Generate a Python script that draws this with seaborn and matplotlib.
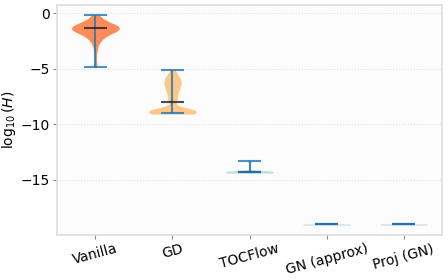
import numpy as np
import pandas as pd
import matplotlib
matplotlib.use("Agg")
import matplotlib.pyplot as plt
import seaborn as sns

methods = ["Vanilla", "GD", "TOCFlow", "GN (approx)", "Proj (GN)"]
colors = ["#fc8d59", "#fdc785", "#b8e0dc", "#dce8ee", "#dce8ee"]
bw_adjusts = [0.85, 0.4, 0.5, 1.0, 1.0]

vanilla = [-0.18, -0.4, -0.55, -0.65, -0.75, -0.82, -0.9, -0.96, -1.0, -1.05,
           -1.1, -1.14, -1.18, -1.21, -1.24, -1.27, -1.29, -1.31, -1.33, -1.34,
           -1.35,
           -1.37, -1.4, -1.43, -1.46, -1.5, -1.54, -1.58, -1.63, -1.68, -1.74,
           -1.8, -1.88, -1.96, -2.05, -2.15, -2.3, -2.45, -2.65, -3.2, -4.8]
gd = [-5.12, -5.4, -5.6, -5.75, -5.85, -5.95, -6.05, -6.15, -6.25, -6.35,
      -6.45, -6.55, -6.65, -6.78, -6.9, -7.05, -7.2, -7.4, -7.6, -7.8,
      -7.95,
      -8.4, -8.58, -8.68, -8.74, -8.78, -8.8, -8.82, -8.83, -8.84, -8.85,
      -8.86, -8.87, -8.88, -8.89, -8.9, -8.92, -8.94, -8.96, -8.98, -9.0]
tocflow = [-13.3, -14.2, -14.26, -14.28, -14.29, -14.3, -14.3, -14.3, -14.3,
           -14.3, -14.3, -14.3, -14.31, -14.31, -14.32]
gn_approx = [-18.99, -19.0, -19.0, -19.0, -19.0, -19.01]
proj_gn = [-18.99, -19.0, -19.0, -19.0, -19.0, -19.01]

series = [vanilla, gd, tocflow, gn_approx, proj_gn]

df = pd.DataFrame({
    "method": np.concatenate([[m] * len(s) for m, s in zip(methods, series)]),
    "value": np.concatenate(series),
})

sns.set_theme(style="whitegrid")
plt.rcParams["font.family"] = ["DejaVu Sans"]
for k in ["text.color", "axes.labelcolor", "xtick.color", "ytick.color"]:
    plt.rcParams[k] = "black"

fig, ax = plt.subplots(figsize=(4.48, 2.8), dpi=100)
fig.subplots_adjust(left=0.127, right=0.987, top=0.982, bottom=0.161)

for m, col, bw in zip(methods, colors, bw_adjusts):
    sub = df[df["method"] == m]
    sns.violinplot(data=sub, x="method", y="value", order=methods, color=col,
                   inner=None, cut=0, density_norm="width", width=0.6,
                   linewidth=0, saturation=1, bw_adjust=bw, ax=ax)
for c in ax.collections:
    c.set_edgecolor(c.get_facecolor())
    c.set_linewidth(1.0)

stats = df.groupby("method", sort=False)["value"]
mins = stats.min().reindex(methods).values
maxs = stats.max().reindex(methods).values
meds = stats.median().reindex(methods).values
pos = np.arange(len(methods))
half = 0.15
blue = "#1f77b4"
ax.vlines(pos, mins, maxs, color=blue, lw=1.5, alpha=0.8, zorder=3)
ax.hlines(meds, pos - half, pos + half, color="#222222", lw=1.5, alpha=0.8, zorder=4)
ax.hlines(maxs, pos - half, pos + half, color=blue, lw=1.5, alpha=0.8, zorder=5)
ax.hlines(mins, pos - half, pos + half, color=blue, lw=1.5, alpha=0.8, zorder=5)

ax.set_facecolor("#fcfcfc")
ax.grid(False)
ax.yaxis.grid(True, linestyle=":", color="#e2e2e2", lw=0.8)
for s in ax.spines.values():
    s.set_color("#dddddd")
    s.set_linewidth(1.2)
ax.set_xlim(-0.5, len(methods) - 0.5)
ax.set_yticks([0, -5, -10, -15])
ax.tick_params(axis="both", labelsize=10, length=3, width=0.8, color="#888888",
               labelcolor="black", left=True, bottom=True, pad=2)
ax.set_xlabel("")
ax.set_ylabel(r"$\log_{10}(H)$", fontsize=10, labelpad=2, color="black")
plt.setp(ax.get_xticklabels(), rotation=15)
ax.margins(y=0.05)
ax.autoscale(axis="y")

fig.savefig("out.png", dpi=100)
